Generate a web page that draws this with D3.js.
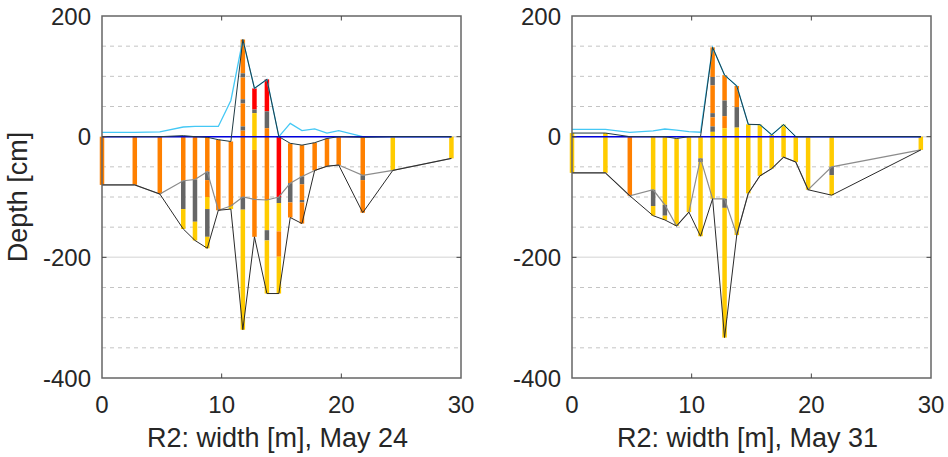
<!DOCTYPE html>
<html>
<head>
<script src="https://cdnjs.cloudflare.com/ajax/libs/d3/7.8.5/d3.min.js"></script>
<style>
  body { margin: 0; background: #fff; }
  text { font-family: "Liberation Sans", Arial, sans-serif; fill: #262626; }
</style>
</head>
<body>
<div id="vis"></div>
<script>
const xTicks = [0, 10, 20, 30];
const yTicks = [200, 0, -200, -400];
const yMinor = [150, 100, 50, -50, -100, -150, -250, -300, -350];

// May 24: station positions [m], layer boundaries [cm] per station, layer kinds
// o = orange, y = yellow, g = gray, r = red
const x24 = [0, 2.74, 4.83, 6.79, 7.77, 8.8, 9.72, 10.77, 11.77, 12.74, 13.78, 14.78, 15.73, 16.71, 17.77, 18.8, 19.78, 21.79, 24.3, 29.2];
const bounds24 = [
  [0, -80], [0, -80], [0, -95], [0, -73, -120, -153], [0, -71, -141, -172],
  [0, -58, -72, -100, -120, -166, -185], [-5, -122], [-8, -115, -120],
  [161, 105, 98, 62, 55, 17, 10, -100, -121, -320], [80, 45, 39, -22, -166],
  [95, 42, 14, -105, -155, -172, -260], [0, -100, -110, -157, -199, -260],
  [-11, -77, -109, -134], [-14, -66, -79, -105, -109, -144], [-10, -56], [-3, -49],
  [0, -47], [-1, -64, -72, -126], [0, -56], [0, -36]
];
const kinds24 = ["o", "o", "o", "ogy", "ogy", "ogoygy", "o", "oy", "ogogogogy", "rgyo",
  "rgoygy", "rgyoy", "ogo", "ogogo", "o", "o", "o", "ogo", "y", "y"];
const top24 = [0, 0, 0, 1.7, 0, -1, -5, -8, 161, 80, 95, 0, -11, -14, -10, -3, 0, -1, 0, 0];
const surf24 = [7, 7, 8, 16, 17, 17, 17, 60, 161, 80, 95, 0, 22, 10, 13, 6, 10, 0, 0, 0];
const mid24 = [-80, -80, -95, -73, -71, -58, -122, -115, -100, -104, -105, -100, -77, -66, -56, -49, -47, -64, -56, -36];
const bot24 = [-80, -80, -95, -153, -172, -185, -122, -120, -320, -166, -260, -260, -134, -144, -56, -49, -47, -126, -56, -36];

// May 31
const x31 = [0, 2.79, 4.83, 6.78, 7.76, 8.74, 9.77, 10.74, 11.75, 12.75, 13.77, 14.73, 15.7, 16.69, 17.68, 18.7, 19.73, 21.7, 29.15];
const bounds31 = [
  [6, -60], [6, -60], [0, -98], [0, -88, -115, -131], [0, -113, -131, -138],
  [-3, -148], [0, -125], [0, -36, -42, -165],
  [148, 99, 85, 39, 32, 17, 8, -103], [102, 60, 34, 14, -103, -118, -333],
  [84, 49, 15, -163], [20.5, -94], [20, -65], [3, -53], [20, -34], [0, -42],
  [0, -88], [0, -50, -64, -97], [0, -22]
];
const kinds31 = ["y", "y", "o", "ygy", "ygy", "y", "y", "ygy", "ogogogy", "ogoygy",
  "ogy", "y", "y", "y", "y", "y", "y", "ygy", "y"];
const top31 = [6, 6, 0, 0, 0, -3, 0, 0, 148, 102, 84, 20.5, 20, 3, 20, 0, 0, 0, 0];
const surf31 = [12, 12, 7, 9.5, 12.7, 11, 8.3, 7.3, 148, 102, 84, 20.5, 20, 3, 20, 0, 0, 0, 0];
const mid31 = [-60, -60, -98, -88, -113, -148, -125, -36, -103, -103, -163, -94, -65, -53, -34, -42, -88, -50, -22];
const bot31 = [-60, -60, -98, -131, -138, -148, -125, -165, -103, -333, -163, -94, -65, -53, -34, -42, -88, -97, -22];

const kindColor = {o: "#ff8000", y: "#ffcc00", g: "#666666", r: "#ff0000"};

const panels = [
  {title: "R2: width [m], May 24", left: 102, x: x24, bounds: bounds24, kinds: kinds24, top: top24, surf: surf24, mid: mid24, bot: bot24, ylabel: true},
  {title: "R2: width [m], May 31", left: 572, x: x31, bounds: bounds31, kinds: kinds31, top: top31, surf: surf31, mid: mid31, bot: bot31, ylabel: false}
];

const width = 948, height = 457;
const pw = 359, ptop = 16, ph = 362;
const barW = 4.5;

const svg = d3.select("#vis").append("svg").attr("width", width).attr("height", height);

panels.forEach(p => {
  const x = d3.scaleLinear().domain([0, 30]).range([p.left, p.left + pw]);
  const y = d3.scaleLinear().domain([-400, 200]).range([ptop + ph, ptop]);
  const g = svg.append("g");

  // grid
  g.selectAll("line.minor").data(yMinor).join("line")
    .attr("x1", x(0)).attr("x2", x(30)).attr("y1", d => y(d)).attr("y2", d => y(d))
    .attr("stroke", "#c4c4c4").attr("stroke-width", 1).attr("stroke-dasharray", "4,4");
  g.selectAll("line.major").data([0, -200]).join("line")
    .attr("x1", x(0)).attr("x2", x(30)).attr("y1", d => y(d)).attr("y2", d => y(d))
    .attr("stroke", "#e2e2e2").attr("stroke-width", 1.5);

  // layered bars
  p.x.forEach((st, i) => {
    const b = p.bounds[i];
    for (let j = 0; j < b.length - 1; j++) {
      g.append("rect")
        .attr("x", x(st) - barW / 2).attr("width", barW)
        .attr("y", y(b[j])).attr("height", y(b[j + 1]) - y(b[j]))
        .attr("fill", kindColor[p.kinds[i][j]]);
    }
  });

  const line = d3.line().x((d, i) => x(p.x[i])).y(d => y(d));
  g.append("path").attr("d", line(p.mid)).attr("fill", "none").attr("stroke", "#8c8c8c").attr("stroke-width", 1.2);
  g.append("path").attr("d", line(p.bot)).attr("fill", "none").attr("stroke", "#2a2a2a").attr("stroke-width", 1);
  g.append("path").attr("d", line(p.surf)).attr("fill", "none").attr("stroke", "#44c8f5").attr("stroke-width", 1.3);
  g.append("path").attr("d", line(p.x.map(() => 0))).attr("fill", "none").attr("stroke", "#0000dd").attr("stroke-width", 1.5);
  g.append("path").attr("d", line(p.top)).attr("fill", "none").attr("stroke", "#1f3a44").attr("stroke-width", 1);

  // frame and inner ticks
  g.append("rect").attr("x", x(0)).attr("y", y(200)).attr("width", pw).attr("height", ph)
    .attr("fill", "none").attr("stroke", "#666").attr("stroke-width", 1.5);
  const tk = 4.5;
  [10, 20].forEach(t => {
    g.append("line").attr("x1", x(t)).attr("x2", x(t)).attr("y1", y(200)).attr("y2", y(200) + tk).attr("stroke", "#444");
    g.append("line").attr("x1", x(t)).attr("x2", x(t)).attr("y1", y(-400)).attr("y2", y(-400) - tk).attr("stroke", "#444");
  });
  [0, -200].forEach(t => {
    g.append("line").attr("x1", x(0)).attr("x2", x(0) + tk).attr("y1", y(t)).attr("y2", y(t)).attr("stroke", "#444");
    g.append("line").attr("x1", x(30)).attr("x2", x(30) - tk).attr("y1", y(t)).attr("y2", y(t)).attr("stroke", "#444");
  });

  // tick labels
  g.selectAll("text.xt").data(xTicks).join("text")
    .attr("x", d => x(d)).attr("y", 413).attr("text-anchor", "middle")
    .style("font-size", "24px").text(d => d);
  g.selectAll("text.yt").data(yTicks).join("text")
    .attr("x", x(0) - 11).attr("y", d => y(d)).attr("dy", "0.36em").attr("text-anchor", "end")
    .style("font-size", "24px").text(d => d);

  g.append("text").attr("x", x(15) - 4).attr("y", 447).attr("text-anchor", "middle")
    .style("font-size", "27px").text(p.title);
  if (p.ylabel) {
    g.append("text").attr("transform", "translate(27," + (ptop + ph / 2) + ") rotate(-90)")
      .attr("text-anchor", "middle").style("font-size", "27px").text("Depth [cm]");
  }
});
</script>
</body>
</html>
